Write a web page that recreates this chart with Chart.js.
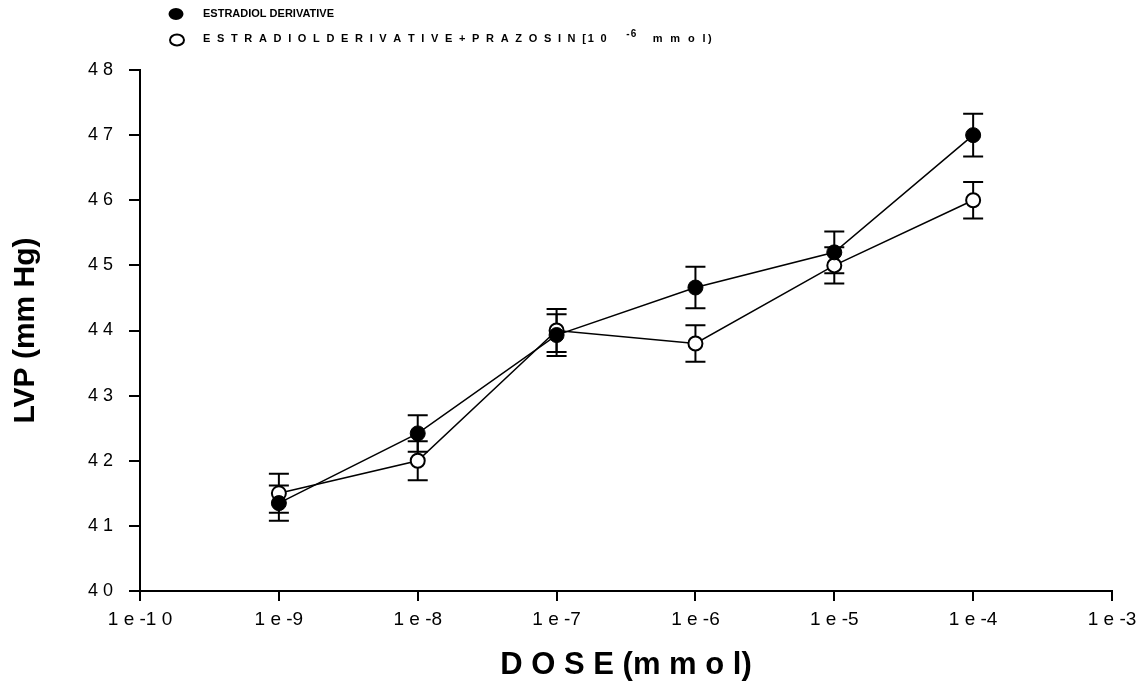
<!DOCTYPE html>
<html>
<head>
<meta charset="utf-8">
<script src="https://cdn.jsdelivr.net/npm/chart.js@4.4.0/dist/chart.umd.min.js"></script>
<style>
  html, body { margin: 0; padding: 0; background: #fff; }
  #wrap { width: 1137px; height: 688px; position: relative; }
</style>
</head>
<body>
<div id="wrap"><canvas id="chart_lvp"></canvas></div>
<script>
// doses in mmol, and the decade ticks of the x axis
var doses = [1e-9, 1e-8, 1e-7, 1e-6, 1e-5, 1e-4];
var xTickExps = [-10, -9, -8, -7, -6, -5, -4, -3];
var xTickLabels = ['1 e -1 0', '1 e -9', '1 e -8', '1 e -7', '1 e -6', '1 e -5', '1 e -4', '1 e -3'];
var yTickLabels = ['4 0', '4 1', '4 2', '4 3', '4 4', '4 5', '4 6', '4 7', '4 8'];

// LVP (mm Hg), mean and error
var estradiol = [41.35, 42.42, 43.93, 44.66, 45.2, 47.0];
var estradiolErr = [0.27, 0.28, 0.32, 0.32, 0.32, 0.33];
var prazosin = [41.5, 42.0, 44.0, 43.8, 45.0, 46.0];
var prazosinErr = [0.3, 0.3, 0.33, 0.28, 0.28, 0.28];

var FONT = '"Liberation Sans", Arial, sans-serif';

function pts(vals) {
	return vals.map(function(v, i){ return {x: doses[i], y: v}; });
}

/* error bars, drawn under the markers */
var errorBars = {
	id: 'errorBars',
	beforeDatasetsDraw: function(chart) {
		var ctx = chart.ctx;
		var xs = chart.scales.x, ys = chart.scales.y;
		var errs = [estradiolErr, prazosinErr];
		ctx.save();
		ctx.strokeStyle = '#000';
		ctx.lineWidth = 2;
		chart.data.datasets.forEach(function(ds, d){
			ds.data.forEach(function(p, i){
				var x = xs.getPixelForValue(p.x);
				var top = ys.getPixelForValue(p.y + errs[d][i]);
				var bot = ys.getPixelForValue(p.y - errs[d][i]);
				ctx.beginPath();
				ctx.moveTo(x, top); ctx.lineTo(x, bot);
				ctx.moveTo(x - 10, top); ctx.lineTo(x + 10, top);
				ctx.moveTo(x - 10, bot); ctx.lineTo(x + 10, bot);
				ctx.stroke();
			});
		});
		ctx.restore();
	}
};

/* legend at the top, with the superscript */
var topLegend = {
	id: 'topLegend',
	afterDraw: function(chart) {
		var ctx = chart.ctx;
		ctx.save();
		ctx.fillStyle = '#000';
		ctx.strokeStyle = '#000';
		ctx.lineWidth = 2;
		// filled marker
		ctx.beginPath();
		ctx.ellipse(176, 14, 7.5, 6, 0, 0, Math.PI * 2);
		ctx.fill();
		// open marker
		ctx.beginPath();
		ctx.ellipse(177, 40, 7, 5.5, 0, 0, Math.PI * 2);
		ctx.stroke();

		ctx.textBaseline = 'middle';
		ctx.textAlign = 'left';
		ctx.font = 'bold 11px ' + FONT;
		ctx.fillText(chart.data.datasets[0].label, 203, 14);

		var x = 203;
		var parts = ['E S T R A D I O L D E R I V A T I V E + P R A Z O S I N [1 0', '-6', ' m m o l)'];
		ctx.letterSpacing = '1.8px';
		ctx.fillText(parts[0], x, 39);
		x += ctx.measureText(parts[0]).width + 18;
		ctx.letterSpacing = '1px';
		ctx.font = 'bold 10px ' + FONT;
		ctx.fillText(parts[1], x, 34);
		x += ctx.measureText(parts[1]).width + 10;
		ctx.letterSpacing = '2.4px';
		ctx.font = 'bold 11px ' + FONT;
		ctx.fillText(parts[2], x, 39);
		ctx.restore();
	}
};

var ctx = document.getElementById('chart_lvp').getContext('2d');
var myChart = new Chart(ctx, {
	type: 'line',
	data: {
		datasets: [{
			label: 'ESTRADIOL DERIVATIVE',
			data: pts(estradiol),
			borderColor: '#000',
			borderWidth: 1.5,
			backgroundColor: '#000',
			pointBackgroundColor: '#000',
			pointBorderColor: '#000',
			pointBorderWidth: 1,
			pointRadius: 7.5,
			tension: 0
		}, {
			label: 'ESTRADIOL DERIVATIVE + PRAZOSIN [10-6 mmol)',
			data: pts(prazosin),
			borderColor: '#000',
			borderWidth: 1.5,
			backgroundColor: '#fff',
			pointBackgroundColor: '#fff',
			pointBorderColor: '#000',
			pointBorderWidth: 2,
			pointRadius: 7,
			tension: 0
		}]
	},
	options: {
		responsive: true,
		maintainAspectRatio: false,
		animation: false,
		layout: { padding: { top: 70, right: 0, left: 8, bottom: 4 } },
		plugins: {
			legend: { display: false },
			tooltip: { enabled: false }
		},
		scales: {
			x: {
				type: 'logarithmic',
				min: 1e-10,
				max: 1e-3,
				afterBuildTicks: function(axis) {
					axis.ticks = xTickExps.map(function(e){ return {value: Number('1e' + e)}; });
				},
				afterFit: function(axis) {
					axis.paddingRight = 25;
				},
				ticks: {
					autoSkip: false,
					maxRotation: 0,
					color: '#000',
					padding: 7,
					font: { family: FONT, size: 19 },
					callback: function(v, i) { return xTickLabels[i]; }
				},
				grid: { display: true, drawOnChartArea: false, drawTicks: true, tickLength: 10, color: '#000', lineWidth: 2 },
				border: { display: true, color: '#000', width: 2 },
				title: {
					display: true,
					text: 'D O S E (m m o l)',
					color: '#000',
					font: { family: FONT, size: 31, weight: 'bold' },
					padding: { top: 9, bottom: 0 }
				}
			},
			y: {
				min: 40,
				max: 48,
				ticks: {
					stepSize: 1,
					color: '#000',
					padding: 16,
					font: { family: FONT, size: 18 },
					callback: function(v) { return yTickLabels[v - 40]; }
				},
				grid: { display: true, drawOnChartArea: false, drawTicks: true, tickLength: 11, color: '#000', lineWidth: 2 },
				border: { display: true, color: '#000', width: 2 },
				title: {
					display: true,
					text: 'LVP (mm Hg)',
					color: '#000',
					font: { family: FONT, size: 30, weight: 'bold' },
					padding: { top: 0, bottom: 28 }
				}
			}
		}
	},
	plugins: [errorBars, topLegend]
});
</script>
</body>
</html>
